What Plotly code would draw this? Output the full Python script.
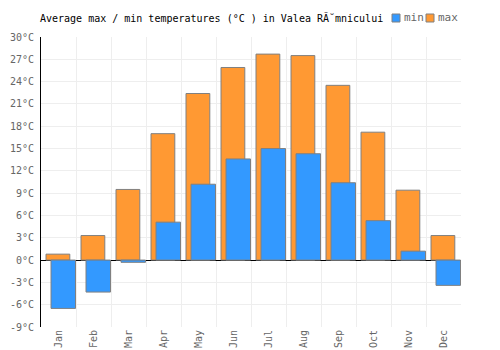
import plotly.graph_objects as go

months = ["Jan", "Feb", "Mar", "Apr", "May", "Jun", "Jul", "Aug", "Sep", "Oct", "Nov", "Dec"]
max_temps = [0.8, 3.3, 9.5, 17.0, 22.4, 25.9, 27.7, 27.5, 23.5, 17.2, 9.4, 3.3]
min_temps = [-6.5, -4.3, -0.3, 5.1, 10.2, 13.6, 15.0, 14.3, 10.4, 5.3, 1.2, -3.4]
y_ticks = list(range(-9, 31, 3))
y_labels = [f"{v}°C" for v in y_ticks]

FONT = "DejaVu Sans Mono"
MAX_COLOR = "#FF9933"
MIN_COLOR = "#3399FF"

fig = go.Figure()
fig.add_trace(go.Bar(
    x=months, y=max_temps, name="max",
    marker=dict(color=MAX_COLOR, line=dict(color="#808080", width=1)),
    width=0.68, offset=-0.357, showlegend=False,
))
fig.add_trace(go.Bar(
    x=months, y=min_temps, name="min",
    marker=dict(color=MIN_COLOR, line=dict(color="#808080", width=1)),
    width=0.70, offset=-0.214, showlegend=False,
))

# custom compact legend (square + label), placed right of the title
legend_items = [("min", MIN_COLOR, 392), ("max", MAX_COLOR, 426)]
shapes = []
annotations = []
for name, color, px in legend_items:
    shapes.append(dict(type="rect", xref="paper", yref="paper",
                       x0=(px - 41) / 420, x1=(px + 8 - 41) / 420,
                       y0=1 + (37 - 22) / 290, y1=1 + (37 - 14) / 290,
                       fillcolor=color, line=dict(color="#808080", width=1)))
    annotations.append(dict(text=name, xref="paper", yref="paper",
                            x=(px + 10 - 41) / 420, y=1 + (37 - 18) / 290,
                            xanchor="left", yanchor="middle", showarrow=False,
                            font=dict(family=FONT, size=11, color="#666666")))

fig.update_layout(
    width=500, height=350,
    margin=dict(l=41, r=39, t=37, b=23),
    paper_bgcolor="white", plot_bgcolor="white",
    barmode="overlay",
    showlegend=False,
    font=dict(family=FONT, size=10, color="#666666"),
    title=dict(text="Average max / min temperatures (°C ) in Valea RÃ˘mnicului",
               font=dict(family=FONT, size=10, color="black"),
               x=40/500, xanchor="left", y=1-18/350, yanchor="middle"),
    shapes=shapes,
    annotations=annotations,
    xaxis=dict(type="category", tickson="boundaries", showgrid=True, gridcolor="#eeeeee",
               tickangle=-90, ticks="", showline=False, zeroline=False, automargin=False,
               tickfont=dict(family=FONT, size=10, color="#666666")),
    yaxis=dict(range=[-9, 30], tickvals=y_ticks, ticktext=y_labels, showgrid=True,
               gridcolor="#eeeeee", zeroline=True, zerolinecolor="black", zerolinewidth=1,
               showline=True, linecolor="black", linewidth=1, ticks="", automargin=False,
               ticklabelstandoff=4,
               tickfont=dict(family=FONT, size=10, color="#666666")),
)

fig.write_html("out.html")
